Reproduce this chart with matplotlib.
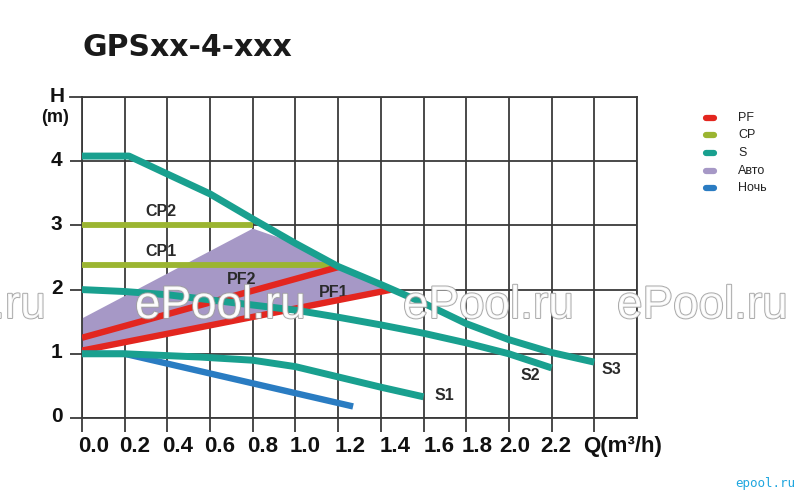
import matplotlib
matplotlib.use("Agg")
import matplotlib.pyplot as plt
import matplotlib.patheffects as pe
from matplotlib.lines import Line2D
from matplotlib.transforms import ScaledTranslation

# ---------------- data ----------------
title = "GPSxx-4-xxx"
x_ticks = [0.0, 0.2, 0.4, 0.6, 0.8, 1.0, 1.2, 1.4, 1.6, 1.8, 2.0, 2.2, 2.4]
x_tick_labels = ["0.0", "0.2", "0.4", "0.6", "0.8", "1.0", "1.2", "1.4",
                 "1.6", "1.8", "2.0", "2.2", "Q(m³/h)"]
y_ticks = [0, 1, 2, 3, 4]
y_tick_labels = ["0", "1", "2", "3", "4"]

s3_q = [0.0, 0.22, 0.4, 0.6, 0.8, 1.0, 1.2, 1.4, 1.6, 1.8, 2.0, 2.2, 2.4]
s3_h = [4.08, 4.08, 3.80, 3.49, 3.10, 2.72, 2.36, 2.08, 1.79, 1.47, 1.22, 1.02, 0.87]

s2_q = [0.0, 0.2, 0.4, 0.6, 0.8, 1.0, 1.2, 1.4, 1.6, 1.8, 2.0, 2.2]
s2_h = [2.0, 1.97, 1.92, 1.84, 1.76, 1.68, 1.57, 1.45, 1.32, 1.17, 1.0, 0.78]

s1_q = [0.0, 0.2, 0.55, 0.8, 1.0, 1.2, 1.4, 1.6]
s1_h = [1.0, 1.0, 0.95, 0.90, 0.80, 0.64, 0.48, 0.33]

night_q = [0.0, 0.2, 0.8, 1.27]
night_h = [1.0, 1.0, 0.54, 0.18]

cp2_q = [0.0, 0.8]
cp2_h = [3.0, 3.0]
cp1_q = [0.0, 1.18]
cp1_h = [2.38, 2.38]

pf2_q = [0.0, 1.2]
pf2_h = [1.25, 2.35]
pf1_q = [0.0, 1.45]
pf1_h = [1.05, 2.0]

auto_q = [0.0, 0.0, 0.8, 1.0, 1.2, 1.4, 1.48, 1.45]
auto_h = [1.05, 1.55, 2.95, 2.72, 2.36, 2.08, 1.99, 2.0]

curve_labels = ["CP2", "CP1", "PF2", "PF1", "S1", "S2", "S3"]
curve_label_q = [0.37, 0.37, 0.75, 1.18, 1.70, 2.10, 2.48]
curve_label_h = [3.21, 2.59, 2.15, 1.96, 0.35, 0.66, 0.76]

legend_names = ["PF", "CP", "S", "Авто", "Ночь"]

# ---------------- style ----------------
C_PF = "#e3261f"
C_CP = "#9bb531"
C_S = "#19a08f"
C_AUTO = "#a698c6"
C_NIGHT = "#2a7cc2"
legend_colors = [C_PF, C_CP, C_S, C_AUTO, C_NIGHT]
GRID = "#3a3a3a"

plt.rcParams['font.family'] = ['Liberation Sans', 'DejaVu Sans']

fig = plt.figure(figsize=(8, 4.95), dpi=100)
ax = fig.add_axes([82 / 800, 1 - 418 / 495, (637 - 82) / 800, (418 - 97) / 495])
ax.set_xlim(0, 2.6)
ax.set_ylim(0, 5)

# grid
for v in [0.2 * i for i in range(14)]:
    ax.axvline(v, color=GRID, lw=1.3, zorder=1)
for v in range(6):
    ax.axhline(v, color=GRID, lw=1.3, zorder=1)
for s in ax.spines.values():
    s.set_color(GRID)
    s.set_linewidth(1.3)

# ticks
ax.set_xticks(x_ticks)
ax.set_xticklabels(x_tick_labels, fontsize=16, fontweight='bold', color='#111111')
ax.set_yticks(y_ticks)
ax.set_yticklabels(y_tick_labels, fontsize=15, fontweight='bold', color='#111111')
ax.tick_params(axis='x', direction='out', length=10, width=1.3, color=GRID, pad=3)
ax.tick_params(axis='y', direction='out', length=9, width=1.3, color=GRID, pad=5)
x_label_dx = [12, 8, 8, 6, 2, 0, 0, 0, 0, 2, 4, 4, 28]
x_label_dx = [12, 8, 6, 4, 2, 0, 0, 0, 0, 0, 0, 4, 28]
x_label_dx = [12, 10, 10, 10, 10, 10, 12, 14, 16, 11, 6, 4, 28]
for lbl, dx in zip(ax.get_xticklabels(), x_label_dx):
    lbl.set_transform(lbl.get_transform() + ScaledTranslation(dx / 100, 0, fig.dpi_scale_trans))
for lbl in ax.get_yticklabels():
    lbl.set_transform(lbl.get_transform() + ScaledTranslation(0, 3 / 100, fig.dpi_scale_trans))

# top-left H label (tick at 5)
ax.plot([-0.055, 0], [5, 5], color=GRID, lw=1.3, clip_on=False, zorder=1)
fig.text(57 / 800, 1 - 96 / 495, "H", fontsize=15, fontweight='bold', ha='center', va='center', color='#111111')
fig.text(55 / 800, 1 - 118 / 495, "(m)", fontsize=13, fontweight='bold', ha='center', va='center', color='#111111')

# title
fig.text(83 / 800, 1 - 48 / 495, title, fontsize=21.5, fontweight='bold', family='DejaVu Sans',
         ha='left', va='center', color='#1a1a1a')

# curves
ax.fill(auto_q, auto_h, color=C_AUTO, lw=0, zorder=2)
ax.plot(cp2_q, cp2_h, color=C_CP, lw=4.2, solid_capstyle='butt', zorder=3)
ax.plot(cp1_q, cp1_h, color=C_CP, lw=4.2, solid_capstyle='butt', zorder=3)
ax.plot(pf2_q, pf2_h, color=C_PF, lw=4.6, solid_capstyle='butt', zorder=4)
ax.plot(pf1_q, pf1_h, color=C_PF, lw=4.6, solid_capstyle='butt', zorder=4)
ax.plot(night_q, night_h, color=C_NIGHT, lw=4.6, solid_capstyle='butt', zorder=4)
ax.plot(s1_q, s1_h, color=C_S, lw=5.0, solid_capstyle='butt', zorder=5)
ax.plot(s2_q, s2_h, color=C_S, lw=5.0, solid_capstyle='butt', zorder=5)
ax.plot(s3_q, s3_h, color=C_S, lw=5.0, solid_capstyle='butt', zorder=5)

for name, q, h in zip(curve_labels, curve_label_q, curve_label_h):
    ax.text(q, h, name, fontsize=11.5, fontweight='bold', color='#2a2a2a',
            ha='center', va='center', zorder=3.5)

# legend (manual)
leg_y = [118, 135, 153, 171, 188]
for name, col, y in zip(legend_names, legend_colors, leg_y):
    yf = 1 - y / 495
    fig.add_artist(Line2D([706 / 800, 714 / 800], [yf, yf], color=col, lw=4.5,
                          solid_capstyle='round', transform=fig.transFigure))
    fig.text(738 / 800, yf, name, fontsize=9, ha='left', va='center', color='#222222')

# watermarks
wm_eff = [pe.Stroke(linewidth=1.4, foreground='#a0a0a0'), pe.Normal()]
for x0 in [-125, 135, 403, 617]:
    t = fig.text(x0 / 800, 1 - 318 / 495, "ePool.ru", fontsize=33, color='white',
                 ha='left', va='baseline', alpha=0.9, zorder=10)
    t.set_path_effects(wm_eff)
fig.text(795 / 800, 1 - 484 / 495, "epool.ru", fontsize=9, color='#1fa6df',
         ha='right', va='center', family='DejaVu Sans Mono')

fig.savefig("out.png", dpi=100)
